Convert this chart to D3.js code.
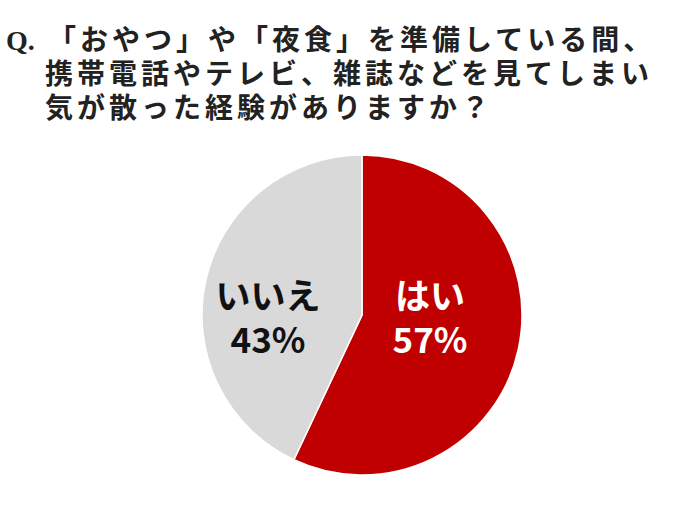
<!DOCTYPE html>
<html><head><meta charset="utf-8">
<script src="https://cdn.jsdelivr.net/npm/d3@7"></script>
<style>body{margin:0;background:#fff}</style>
</head><body>
<script>
// data
var categories = ["はい", "いいえ"];
var values = [57, 43];
var colors = ["#c00000", "#d9d9d9"];
var titleLines = ["「おやつ」や「夜食」を準備している間、", "携帯電話やテレビ、雑誌などを見てしまい", "気が散った経験がありますか？"];

var svg = d3.select("body").append("svg").attr("width", 679).attr("height", 515);
var font = "'Noto Sans CJK JP', sans-serif";

// title
svg.append("text").attr("x", 6).attr("y", 50).attr("font-family", "'Liberation Serif', serif")
  .attr("font-weight", "bold").attr("font-size", 28).attr("fill", "#222").text("Q.");
svg.selectAll(".title").data(titleLines).enter().append("text")
  .attr("x", function(d, i) { return i == 0 ? 48 : 45; })
  .attr("y", function(d, i) { return 50 + i * 34; })
  .attr("font-family", font).attr("font-weight", "bold").attr("font-size", 28)
  .attr("letter-spacing", 4)
  .attr("fill", "#222").text(function(d) { return d; });

// pie
var cx = 362, cy = 315, r = 160;
var pie = d3.pie().sort(null).value(function(d) { return d; });
var arc = d3.arc().innerRadius(0).outerRadius(r);
var g = svg.append("g").attr("transform", "translate(" + cx + "," + cy + ")");
var arcs = pie(values);
g.selectAll("path").data(arcs).enter().append("path")
  .attr("d", arc).attr("fill", function(d, i) { return colors[i]; })
  .attr("stroke", "#fff").attr("stroke-width", 1.5);

// labels
var labelPos = [[68, 0], [-94, 0]];
var textColors = ["#fff", "#111"];
arcs.forEach(function(d, i) {
  g.append("text").attr("text-anchor", "middle").attr("font-family", font)
    .attr("font-weight", "bold").attr("font-size", 35).attr("fill", textColors[i])
    .attr("x", labelPos[i][0]).attr("y", -6).text(categories[i]);
  g.append("text").attr("text-anchor", "middle").attr("font-family", font)
    .attr("font-weight", "bold").attr("font-size", 35).attr("fill", textColors[i])
    .attr("x", labelPos[i][0]).attr("y", 38).text(values[i] + "%");
});
</script>
</body></html>
